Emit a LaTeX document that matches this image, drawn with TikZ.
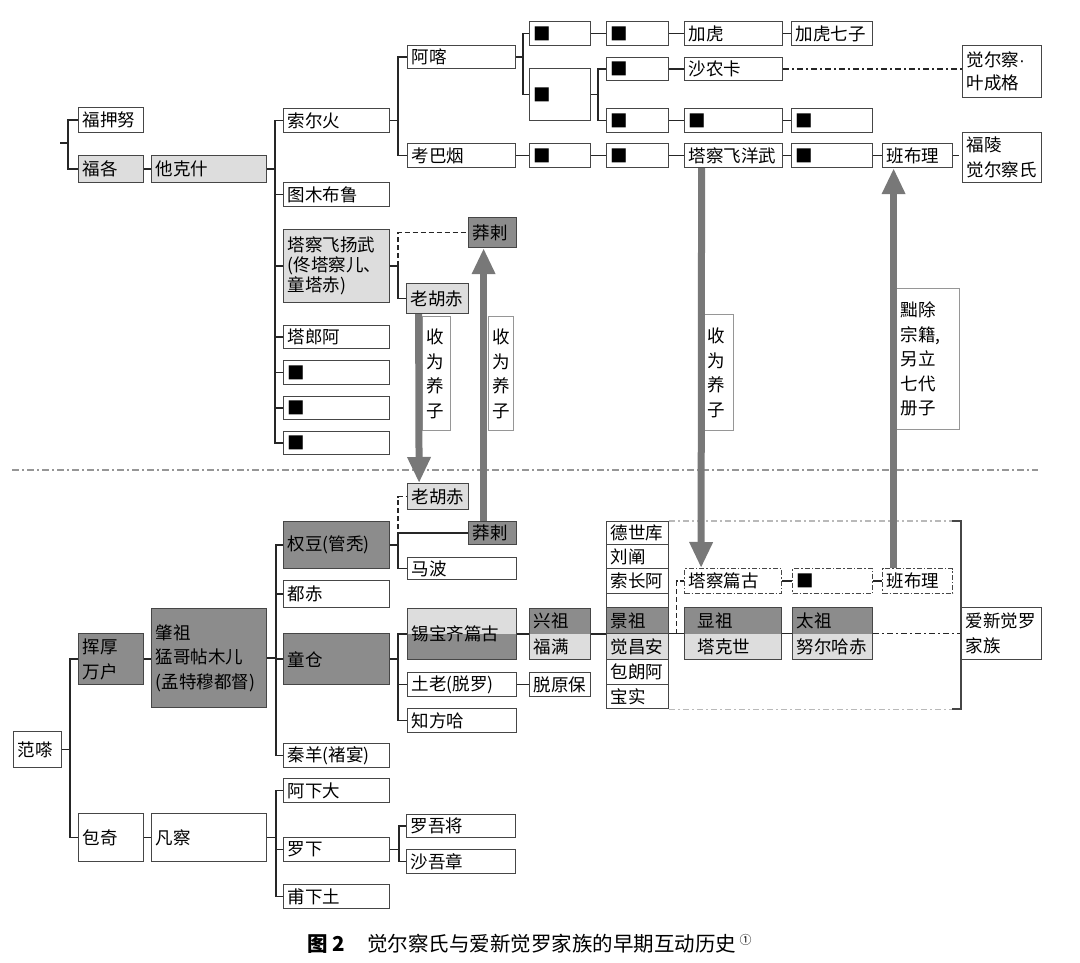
\documentclass[tikz,border=0pt]{standalone}
\usepackage{fontspec}
\usepackage{xcolor}
\usepackage{tikz}
\usetikzlibrary{arrows.meta}
\newfontfamily\cjk{Noto Sans CJK SC}
\newfontfamily\latinfont{Liberation Sans}
\definecolor{tonedark} {RGB}{140, 140, 140}
\definecolor{tonelight}{RGB}{221, 221, 221}
\definecolor{boxline}  {RGB}{70,  70,  70}
\definecolor{arrowgray}{RGB}{120, 120, 120}
\definecolor{rulegray} {RGB}{150, 150, 150}
\definecolor{hintgray} {RGB}{185, 185, 185}
\tikzset{
  clanbox/.style={
    draw=boxline, line width=1.2pt, fill=white,
    anchor=north west, inner xsep=4pt, inner ysep=0pt,
    font=\cjk\fontsize{17.5}{25}\selectfont
  },
  clanlight/.style={clanbox, fill=tonelight},
  clandark/.style={clanbox, fill=tonedark},
  clandarktop/.style={clanbox, fill=tonelight,
    path picture={\fill[tonedark] (path picture bounding box.north west)
      rectangle (path picture bounding box.east);}},
  clanlighttop/.style={clanbox, fill=tonedark,
    path picture={\fill[tonelight] (path picture bounding box.north west)
      rectangle (path picture bounding box.east);}},
  clanhint/.style={clanbox, dash pattern=on 5pt off 2pt on 1.5pt off 2pt},
  clanlabel/.style={clanbox, draw=rulegray, font=\cjk\fontsize{17.5}{24.5}\selectfont},
  clanlink/.style={line width=1.7pt, draw=black!85},
  clantrace/.style={clanlink, dash pattern=on 6pt off 3pt on 2pt off 3pt},
  clanguess/.style={clanlink, dash pattern=on 5pt off 3pt},
  clanarrow/.style={line width=7pt, draw=arrowgray,
    -{Triangle[width=22pt, length=26pt]}},
}
\newcommand{\clannode}[7][clanbox]{%
  \node[#1, minimum width=#5pt, minimum height=#6pt] (#2) at (#3,#4)
    {\parbox{\dimexpr#5pt-8pt\relax}{\raggedright #7}};}

\begin{document}
\begin{tikzpicture}[x=1pt, y=-1pt]
  \useasboundingbox (0,0) rectangle (1080,963);

  % Juechai line, upper half
  \clannode{fuyanu}{78}{107}{65}{25}{福押努}
  \clannode[clanlight]{fuge}{78}{155}{65}{27}{福各}
  \clannode[clanlight]{takeshi}{151}{155}{115}{27}{他克什}
  \clannode{suoerhuo}{283}{108}{106}{24}{索尔火}
  \clannode{tumubulu}{283}{182}{106}{24}{图木布鲁}
  \clannode[clanlight, font=\cjk\fontsize{17.5}{20}\selectfont]{tachafei}{283}{229}{106}{73}{塔察飞扬武\\(佟塔察儿、\\童塔赤)}
  \clannode{talanga}{283}{325}{106}{23}{塔郎阿}
  \clannode{unkA}{283}{360}{106}{24}{■}
  \clannode{unkB}{283}{396}{106}{23}{■}
  \clannode{unkC}{283}{431}{106}{23}{■}
  \clannode[clandark]{manglaA}{468}{217}{48}{30}{莽剌}
  \clannode[clanlight]{laohuchiA}{406}{283}{62}{30}{老胡赤}

  \clannode{ake}{407}{45}{108}{23}{阿喀}
  \clannode{kaobayan}{407}{143}{108}{24}{考巴烟}
  \clannode{rowAa}{529}{21}{61}{24}{■}
  \clannode{rowAb}{606}{21}{62}{24}{■}
  \clannode{jiahu}{684}{21}{98}{24}{加虎}
  \clannode{jiahuqizi}{791}{21}{81}{24}{加虎七子}
  \clannode{unkBig}{529}{68}{61}{52}{■}
  \clannode{rowBa}{606}{57}{62}{23}{■}
  \clannode{shanongka}{684}{57}{98}{23}{沙农卡}
  \clannode{rowCa}{606}{108}{62}{24}{■}
  \clannode{rowCb}{684}{108}{98}{24}{■}
  \clannode{rowCc}{791}{108}{81}{24}{■}
  \clannode{rowDa}{529}{143}{61}{24}{■}
  \clannode{rowDb}{606}{143}{62}{24}{■}
  \clannode{tachafeiyang}{684}{143}{98}{24}{塔察飞洋武}
  \clannode{rowDc}{791}{143}{81}{24}{■}
  \clannode{banbuliA}{882}{143}{70}{24}{班布理}
  \clannode[clanbox, font=\cjk\fontsize{17.5}{23}\selectfont]{yechengge}{962}{45}{79}{52}{觉尔察{\latinfont ·}\\叶成格}
  \clannode{fuling}{962}{132}{79}{50}{福陵\\觉尔察氏}

  % Aisin Gioro line, lower half
  \clannode{fancha}{13}{731}{48}{36}{范嗏}
  \clannode[clandark]{huihou}{78}{633}{65}{51}{挥厚\\万户}
  \clannode[clandark, font=\cjk\fontsize{17.5}{24.5}\selectfont]{zhaozu}{151}{608}{115}{99}{肇祖\\猛哥帖木儿\\(孟特穆都督)}
  \clannode{baoqi}{78}{813}{65}{48}{包奇}
  \clannode{fanca}{151}{813}{115}{48}{凡察}
  \clannode[clandark]{quandou}{283}{521}{106}{47}{权豆(管秃)}
  \clannode{duchi}{283}{580}{106}{27}{都赤}
  \clannode[clandark]{tongcang}{283}{633}{106}{51}{童仓}
  \clannode{qinyang}{283}{743}{106}{24}{秦羊(褚宴)}
  \clannode{axiada}{283}{778}{106}{24}{阿下大}
  \clannode{luoxia}{283}{837}{106}{24}{罗下}
  \clannode{puxiatu}{283}{884}{106}{24}{甫下土}
  \clannode[clanlight]{laohuchiB}{407}{483}{61}{26}{老胡赤}
  \clannode[clandark]{manglaB}{468}{521}{48}{23}{莽剌}
  \clannode{mabo}{407}{557}{109}{22}{马波}
  \clannode[clanlighttop]{xibao}{407}{608}{109}{51}{锡宝齐篇古}
  \clannode{tulao}{407}{672}{109}{24}{土老(脱罗)}
  \clannode{zhifangha}{407}{708}{109}{24}{知方哈}
  \clannode{tuoyuanbao}{529}{672}{61}{24}{脱原保}
  \clannode[clandarktop, font=\cjk\fontsize{17.5}{26}\selectfont]{xingzu}{529}{608}{61}{51}{兴祖\\福满}
  \clannode{luowujiang}{406}{814}{109}{23}{罗吾将}
  \clannode{shawuzhang}{406}{849}{109}{24}{沙吾章}

  % Brothers of Jingzu
  \clannode{deshiku}{606}{521}{62}{23}{德世库}
  \clannode{liuchan}{606}{544}{62}{24}{刘阐}
  \clannode{suochanga}{606}{568}{62}{25}{索长阿}
  \clannode{blankrow}{606}{593}{62}{14}{}
  \clannode[clandark]{jingzu}{606}{607}{62}{26}{景祖}
  \clannode[clanlight]{juechangan}{606}{633}{62}{26}{觉昌安}
  \clannode{baolanga}{606}{659}{62}{25}{包朗阿}
  \clannode{baoshi}{606}{684}{62}{24}{宝实}

  \clannode[clanhint]{tachapiangu}{684}{568}{97}{25}{塔察篇古}
  \clannode[clanhint]{unkD}{792}{568}{80}{25}{■}
  \clannode[clanhint]{banbuliB}{882}{568}{70}{25}{班布理}
  \clannode[clandarktop, font=\cjk\fontsize{17.5}{26}\selectfont]{xianzu}{684}{607}{97}{52}{\hspace*{9pt}显祖\\\hspace*{9pt}塔克世}
  \clannode[clandarktop, font=\cjk\fontsize{17.5}{26}\selectfont]{taizu}{792}{607}{80}{52}{太祖\\努尔哈赤}
  \clannode{aisin}{961}{607}{80}{52}{爱新觉罗\\家族}

  % Adoption labels
  \clannode[clanlabel]{lblA}{422}{316}{28}{114}{收\\为\\养\\子}
  \clannode[clanlabel]{lblB}{488}{316}{25}{114}{收\\为\\养\\子}
  \clannode[clanlabel]{lblC}{703}{314}{30}{116}{收\\为\\养\\子}
  \clannode[clanlabel]{lblD}{896}{288}{63}{141}{黜除\\宗籍,\\另立\\七代\\册子}

  % Upper brackets
  \coordinate (topstub) at (60,143);
  \draw[clanlink] (topstub) -- ++(8,0) coordinate (jTop);
  \draw[clanlink] (jTop) |- (fuyanu.west);
  \draw[clanlink] (jTop) |- (fuge.west);
  \draw[clanlink] (fuge.east) -- (takeshi.west);
  \draw[clanlink] (takeshi.east) -- ++(8,0) coordinate (jTakeshi);
  \foreach \kid in {suoerhuo, tumubulu, tachafei, talanga, unkA, unkB, unkC}
    \draw[clanlink] (jTakeshi) |- (\kid.west);
  \draw[clanlink] (suoerhuo.east) -- ++(8,0) coordinate (jSuoerhuo);
  \draw[clanlink] (jSuoerhuo) |- (ake.west);
  \draw[clanlink] (jSuoerhuo) |- (kaobayan.west);
  \draw[clanlink] (ake.east) -- ++(7,0) coordinate (jAke);
  \draw[clanlink] (jAke) |- (rowAa.west);
  \draw[clanlink] (jAke) |- (unkBig.west);
  \draw[clanlink] (rowAa) -- (rowAb) -- (jiahu) -- (jiahuqizi);
  \draw[clanlink] (unkBig.east) -- ++(7,0) coordinate (jBig);
  \draw[clanlink] (jBig) |- (rowBa.west);
  \draw[clanlink] (jBig) |- (rowCa.west);
  \draw[clanlink] (rowBa) -- (shanongka);
  \draw[clanlink] (rowCa) -- (rowCb) -- (rowCc);
  \draw[clanlink] (kaobayan) -- (rowDa) -- (rowDb) -- (tachafeiyang) -- (rowDc) -- (banbuliA);
  \draw[clantrace] (shanongka.east) -- (shanongka.east -| yechengge.west);
  \draw[clantrace] (banbuliA.east) -- (banbuliA.east -| fuling.west);
  \draw[clanlink] (tachafei.east) -- ++(8,0) coordinate (jTachafei);
  \draw[clanguess] (jTachafei) |- (manglaA.west);
  \draw[clanlink] (jTachafei) |- (laohuchiA.west);

  % Lower brackets
  \draw[clanlink] (fancha.east) -- ++(8,0) coordinate (jFancha);
  \draw[clanlink] (jFancha) |- (huihou.west);
  \draw[clanlink] (jFancha) |- (baoqi.west);
  \draw[clanlink] (huihou.east) -- (huihou.east -| zhaozu.west);
  \draw[clanlink] (zhaozu.east) -- ++(9,0) coordinate (jZhaozu);
  \foreach \kid in {quandou, duchi, tongcang, qinyang}
    \draw[clanlink] (jZhaozu) |- (\kid.west);
  \draw[clanlink] (baoqi) -- (fanca);
  \draw[clanlink] (fanca.east) -- ++(9,0) coordinate (jFanca);
  \foreach \kid in {axiada, luoxia, puxiatu}
    \draw[clanlink] (jFanca) |- (\kid.west);
  \draw[clanlink] (luoxia.east) -- ++(9,0) coordinate (jLuoxia);
  \draw[clanlink] (jLuoxia) |- (luowujiang.west);
  \draw[clanlink] (jLuoxia) |- (shawuzhang.west);
  \draw[clanlink] (quandou.east) -- ++(8,0) coordinate (jQuandou);
  \draw[clanguess] (jQuandou) |- (laohuchiB.west);
  \draw[clanlink] (jQuandou) |- (manglaB.west);
  \draw[clanlink] (jQuandou) |- (mabo.west);
  \draw[clanlink] (tongcang.east) -- ++(8,0) coordinate (jTongcang);
  \foreach \kid in {xibao, tulao, zhifangha}
    \draw[clanlink] (jTongcang) |- (\kid.west);
  \draw[clanlink] (xibao) -- (xingzu);
  \draw[clanlink] (tulao) -- (tuoyuanbao);
  \draw[clanlink] (xingzu.east) -- (xingzu.east -| jingzu.west);
  \draw[clanlink] (xianzu.west -| jingzu.east) -- coordinate[pos=0.5] (jJingzu) (xianzu.west);
  \draw[clanguess] (jJingzu) |- (tachapiangu.west);
  \draw[clanlink] (tachapiangu) -- (unkD) -- (banbuliB);
  \draw[clanlink] (xianzu) -- (taizu);
  \draw[clantrace] (taizu.east) -- (aisin.west);

  % Frame round the brothers
  \draw[line width=1.2pt, draw=hintgray, dash pattern=on 6pt off 3pt on 2pt off 3pt]
    (deshiku.north east) -- ([xshift=-9pt]aisin.west |- deshiku.north);
  \draw[line width=1.2pt, draw=hintgray, dash pattern=on 6pt off 3pt on 2pt off 3pt]
    (baoshi.south east) -- ([xshift=-9pt]aisin.west |- baoshi.south);
  \draw[clanlink, draw=boxline] ([xshift=-9pt]aisin.west |- deshiku.north) -- (aisin.west |- deshiku.north)
    -- (aisin.west |- baoshi.south) -- ([xshift=-9pt]aisin.west |- baoshi.south);

  % Divider
  \draw[line width=2pt, draw=rulegray, dash pattern=on 7pt off 3pt on 2pt off 3pt] (12,470) -- (1038,470);

  % Adoptions
  \draw[clanarrow] ([xshift=-19pt]laohuchiA.south) -- ([xshift=-19pt]laohuchiB.north);
  \draw[clanarrow] ([xshift=-9pt]manglaB.north) -- ([xshift=-9pt]manglaA.south);
  \draw[clanarrow] ([xshift=-32pt]tachafeiyang.south) -- ([xshift=-32pt]tachapiangu.north);
  \draw[clanarrow] ([xshift=-24pt]banbuliB.north) -- ([xshift=-24pt]banbuliA.south);

  % Caption
  \node[anchor=west, font=\cjk\fontsize{20.5}{24}\selectfont] (caption) at (304,944)
    {{\bfseries 图 2}\hspace{22pt}觉尔察氏与爱新觉罗家族的早期互动历史\,\raisebox{7pt}{\fontsize{12}{12}\selectfont ①}};
\end{tikzpicture}
\end{document}
